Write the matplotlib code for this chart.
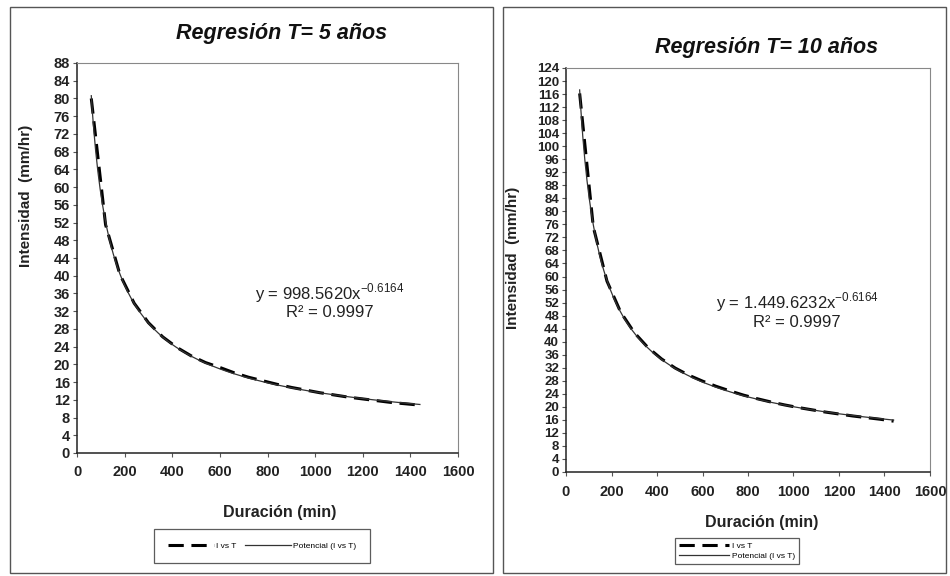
import numpy as np
import matplotlib.pyplot as plt
from matplotlib.patches import Rectangle

plt.rcParams['font.family'] = ['Liberation Sans', 'DejaVu Sans']
plt.rcParams['axes.unicode_minus'] = False

# durations (min) and intensities (mm/hr)
duracion = [60, 120, 180, 240, 300, 360, 420, 480, 540, 600, 660, 720,
            780, 840, 900, 960, 1020, 1080, 1140, 1200, 1260, 1320, 1380, 1440]
i_t5 = [80.0, 51.5, 40.3, 33.8, 29.4, 26.2, 23.8, 21.9, 20.4, 19.3, 18.1, 17.1,
        16.3, 15.5, 14.8, 14.2, 13.6, 13.1, 12.6, 12.2, 11.8, 11.4, 11.1, 10.8]
i_t10 = [116.2, 75.2, 58.6, 49.1, 42.8, 38.2, 34.7, 31.9, 29.7, 27.9, 26.3, 24.9,
         23.6, 22.5, 21.5, 20.6, 19.8, 19.1, 18.4, 17.8, 17.2, 16.7, 16.2, 15.6]

titles = ['Regresión T= 5 años', 'Regresión T= 10 años']
eqs = [r'y = 998.5620x$^{\mathregular{-0.6164}}$', r'y = 1.449.6232x$^{\mathregular{-0.6164}}$']
r2 = ['R² = 0.9997', 'R² = 0.9997']
ymax = [88, 124]

fig = plt.figure(figsize=(9.5, 5.76), dpi=100)
W, H = 950, 576

def px(x0, y0, x1, y1):
    # pixel box (top-left origin) -> figure fraction rect
    return [x0 / W, 1 - y1 / H, (x1 - x0) / W, (y1 - y0) / H]

# outer frames of the two chart objects
for box in [(10, 7, 493, 573), (503, 7, 946, 573)]:
    r = px(*box)
    fig.patches.append(Rectangle((r[0], r[1]), r[2], r[3], transform=fig.transFigure,
                                 fill=False, edgecolor='#555555', lw=1.0))

ax_boxes = [(77, 63, 458, 453), (566, 68, 930, 472)]
title_pos = [(282, 33), (767, 47)]
ylab_pos = [(-0.115, 0.66), (-0.125, 0.53)]
xlab_pos = [(0.533, -0.133), (0.538, -0.106)]
eq_pos = [(0.664, 0.41, 0.36), (0.635, 0.42, 0.371)]
leg_pos = [(262, 546, 2), (737, 551, 1)]

for k, vals in enumerate([i_t5, i_t10]):
    ax = fig.add_axes(px(*ax_boxes[k]))
    x = np.array(duracion, dtype=float)
    y = np.array(vals, dtype=float)
    # power trendline fitted to the data (as the spreadsheet does)
    b, a = np.polyfit(np.log(x), np.log(y), 1)
    xf = np.linspace(x.min(), x.max(), 300)
    yf = np.exp(a) * xf ** b

    ax.plot(x, y, color='black', lw=2.2, ls=(0, (5, 2.5)), label='I vs T')
    ax.plot(xf, yf, color='#333333', lw=0.9, label='Potencial (I vs T)')

    ax.set_xlim(0, 1600)
    ax.set_ylim(0, ymax[k])
    ax.set_xticks(range(0, 1601, 200))
    ax.set_yticks(range(0, ymax[k] + 1, 4))
    for s in ['top', 'right']:
        ax.spines[s].set_color('#888888')
        ax.spines[s].set_linewidth(0.8)
    for s in ['left', 'bottom']:
        ax.spines[s].set_color('#222222')
        ax.spines[s].set_linewidth(1.1)
    ax.tick_params(direction='out', length=3, width=0.8, color='#555555', pad=2)
    fs_y = 10.5 if k == 0 else 9.5
    for t in ax.get_yticklabels():
        t.set_fontsize(fs_y)
        t.set_fontweight('bold')
        t.set_color('#222222')
    for t in ax.get_xticklabels():
        t.set_fontsize(10.5)
        t.set_fontweight('bold')
        t.set_color('#222222')
    ax.tick_params(axis='x', pad=6)

    ax.set_ylabel('Intensidad  (mm/hr)', fontsize=11, fontweight='bold', color='#222222')
    ax.yaxis.set_label_coords(*ylab_pos[k])
    ax.set_xlabel('Duración (min)', fontsize=11.5, fontweight='bold', color='#222222')
    ax.xaxis.set_label_coords(*xlab_pos[k])

    ex, ey1, ey2 = eq_pos[k]
    ax.text(ex, ey1, eqs[k], transform=ax.transAxes, ha='center', va='center',
            fontsize=12, color='#222222')
    ax.text(ex, ey2, r2[k], transform=ax.transAxes, ha='center', va='center',
            fontsize=12, color='#222222')

    tx, ty = title_pos[k]
    fig.text(tx / W, 1 - ty / H, titles[k], ha='center', va='center', fontsize=15.5,
             fontweight='bold', fontstyle='italic', color='#111111')

    lx, ly, nc = leg_pos[k]
    leg = ax.legend(loc='center', bbox_to_anchor=(lx / W, 1 - ly / H),
                    bbox_transform=fig.transFigure, ncol=nc, fontsize=6,
                    frameon=True, fancybox=False, edgecolor='#333333',
                    handlelength=5.5 if k == 0 else 6, borderpad=1.6 if k == 0 else 0.5,
                    columnspacing=1.0, handletextpad=0.3, labelspacing=0.3)
    leg.get_frame().set_linewidth(0.9)

fig.savefig('out.png', dpi=100, facecolor='white')
